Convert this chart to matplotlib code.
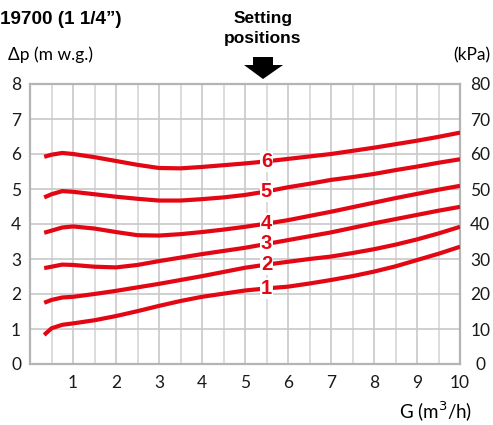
import matplotlib
matplotlib.use("Agg")
import matplotlib.pyplot as plt
from matplotlib.patches import Polygon

# flow G (m3/h) and pressure drop (m w.g.) for each setting position
g_flow = [0.33, 0.5, 0.75, 1, 1.5, 2, 2.5, 3, 3.5, 4, 4.5, 5, 5.5,
          6, 6.5, 7, 7.5, 8, 8.5, 9, 9.5, 10]
dp_1 = [0.83, 1.02, 1.12, 1.16, 1.25, 1.37, 1.51, 1.66, 1.80, 1.92, 2.01, 2.10, 2.16,
        2.21, 2.30, 2.40, 2.51, 2.64, 2.79, 2.97, 3.15, 3.35]
dp_2 = [1.75, 1.83, 1.90, 1.92, 2.00, 2.09, 2.19, 2.29, 2.40, 2.51, 2.63, 2.75, 2.84,
        2.92, 3.00, 3.07, 3.17, 3.28, 3.41, 3.56, 3.73, 3.92]
dp_3 = [2.74, 2.78, 2.84, 2.83, 2.78, 2.76, 2.83, 2.94, 3.04, 3.14, 3.23, 3.32, 3.43,
        3.54, 3.65, 3.76, 3.89, 4.02, 4.14, 4.26, 4.38, 4.49]
dp_4 = [3.75, 3.81, 3.90, 3.93, 3.87, 3.77, 3.68, 3.67, 3.71, 3.77, 3.84, 3.92, 4.01,
        4.11, 4.23, 4.35, 4.48, 4.61, 4.74, 4.86, 4.98, 5.09]
dp_5 = [4.76, 4.85, 4.94, 4.92, 4.85, 4.78, 4.72, 4.67, 4.67, 4.71, 4.76, 4.83, 4.93,
        5.05, 5.15, 5.26, 5.34, 5.43, 5.54, 5.64, 5.75, 5.85]
dp_6 = [5.92, 5.98, 6.03, 6.00, 5.91, 5.80, 5.69, 5.60, 5.59, 5.63, 5.68, 5.73, 5.79,
        5.86, 5.93, 6.00, 6.09, 6.18, 6.28, 6.38, 6.49, 6.61]
curves = [dp_1, dp_2, dp_3, dp_4, dp_5, dp_6]
curve_names = ["1", "2", "3", "4", "5", "6"]
label_x = 5.5

y_ticks = [0, 1, 2, 3, 4, 5, 6, 7, 8]
kpa_ticks = [0, 10, 20, 30, 40, 50, 60, 70, 80]
x_ticks = [1, 2, 3, 4, 5, 6, 7, 8, 9, 10]

red = "#e30613"
grid_c = "#c8c8c8"
plt.rcParams["font.family"] = ["Lato", "DejaVu Sans"]

W, H = 493, 425
fig = plt.figure(figsize=(W / 100, H / 100), dpi=100)
ax = fig.add_axes([30 / W, (H - 364) / H, 430 / W, 280 / H])

ax.set_xlim(0, 10)
ax.set_ylim(0, 8)

# grid: every 0.5 on G, every 1 on dp
for xv in [i * 0.5 for i in range(1, 20)]:
    ax.axvline(xv, color=grid_c if xv % 1 == 0 else "#d6d6d6", lw=1.2, zorder=1)
for yv in y_ticks[1:-1]:
    ax.axhline(yv, color=grid_c, lw=1.2, zorder=1)
for s in ax.spines.values():
    s.set_color("#b4b4b4")
    s.set_linewidth(1.6)

for dp, name in zip(curves, curve_names):
    ax.plot(g_flow, dp, color=red, lw=3.0, solid_capstyle="butt", zorder=3)
    ax.text(label_x, dp[g_flow.index(label_x)], name, color=red, fontsize=14.5,
            fontweight="bold", family="Liberation Sans", ha="center", va="center",
            zorder=4, bbox=dict(facecolor="white", edgecolor="none", pad=0.6))

ax.set_xticks(x_ticks)
ax.set_xticklabels([str(v) for v in x_ticks])
ax.set_yticks(y_ticks)
ax.set_yticklabels([str(v) for v in y_ticks])
ax.tick_params(axis="both", length=0, labelsize=12.5, colors="#1a1a1a")
ax.tick_params(axis="x", pad=8)
ax.tick_params(axis="y", pad=10)
for t in ax.get_yticklabels():
    t.set_horizontalalignment("center")

ax2 = ax.twinx()
ax2.set_ylim(0, 80)
ax2.set_yticks(kpa_ticks)
ax2.set_yticklabels([str(v) for v in kpa_ticks])
ax2.tick_params(axis="y", length=0, labelsize=12.5, colors="#1a1a1a", pad=14.5)
for t in ax2.get_yticklabels():
    t.set_horizontalalignment("center")
for s in ax2.spines.values():
    s.set_visible(False)

# texts above the chart
fig.text(0 / W, 1 - 20 / H, "19700 (1 1/4\u201d)", fontsize=13.6, fontweight="bold",
         family="Liberation Sans", ha="left", va="center")
fig.text(263 / W, 1 - 18 / H, "Setting", fontsize=12.5, fontweight="bold",
         family="Liberation Sans", ha="center", va="center")
fig.text(263 / W, 1 - 39 / H, "positions", fontsize=12.5, fontweight="bold",
         family="Liberation Sans", ha="center", va="center")
fig.text(8 / W, 1 - 55 / H, "\u0394p (m w.g.)", fontsize=12.5, ha="left", va="center")
fig.text(490 / W, 1 - 55 / H, "(kPa)", fontsize=12.5, ha="right", va="center")
fig.text(472 / W, 1 - 412 / H, "G (m$^3$/h)", fontsize=13.5, ha="right", va="center")

# black arrow pointing down to the charts
arrow_px = [(253, 57), (273, 57), (273, 65), (283, 65), (263, 79), (244, 65), (253, 65)]
fig.patches.append(Polygon([(px / W, 1 - py / H) for px, py in arrow_px], closed=True,
                           facecolor="black", edgecolor="none",
                           transform=fig.transFigure, figure=fig))

fig.savefig("out.png", dpi=100)
